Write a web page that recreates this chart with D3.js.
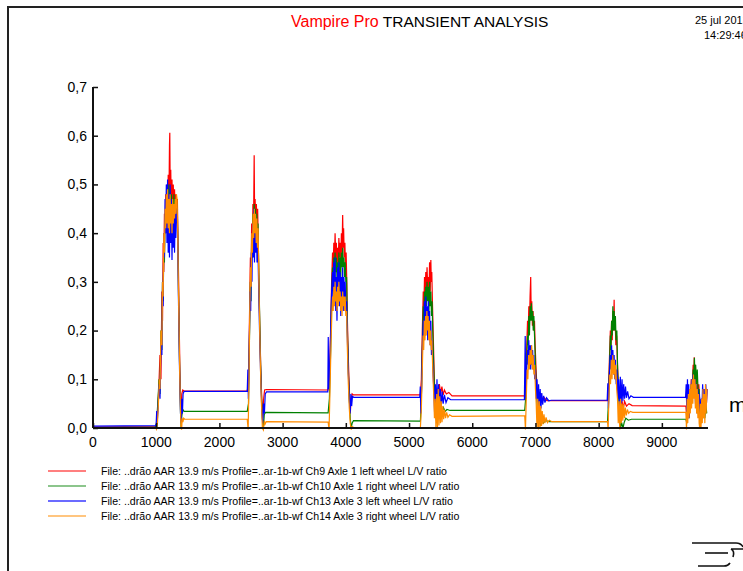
<!DOCTYPE html>
<html>
<head>
<meta charset="utf-8">
<script src="https://cdn.jsdelivr.net/npm/d3@7"></script>
<style>
  body { margin: 0; background: #fff; }
  text { font-family: "Liberation Sans", Arial, sans-serif; }
</style>
</head>
<body>
<div id="chart"></div>
<script>
// distance along track (m) and L/V ratio
var ch9 = [[0,0.002],[980,0.003],
  [1000,0.004],[1020,0.03],[1040,0.08],[1060,0.15],[1075,0.1],[1090,0.28],[1100,0.22],[1110,0.38],[1120,0.32],[1130,0.44],[1140,0.4],[1150,0.48],[1160,0.43],[1170,0.5],[1180,0.42],[1190,0.52],[1200,0.45],[1210,0.58],[1215,0.606],[1222,0.47],[1230,0.53],[1240,0.44],[1250,0.51],[1260,0.43],[1270,0.5],[1280,0.45],[1290,0.49],[1300,0.44],[1310,0.48],[1320,0.46],[1335,0.47],[1345,0.38],[1355,0.3],[1365,0.2],[1375,0.12],[1385,0.06],[1395,0.02],[1405,0.07],[1420,0.078],[1440,0.076],
  [2440,0.076],
  [2460,0.09],[2475,0.22],[2490,0.35],[2500,0.3],[2510,0.42],[2520,0.38],[2530,0.46],[2540,0.42],[2550,0.56],[2556,0.45],[2565,0.47],[2575,0.41],[2585,0.46],[2595,0.4],[2605,0.45],[2615,0.38],[2625,0.3],[2640,0.2],[2655,0.12],[2670,0.06],[2685,0.02],[2700,0.06],[2715,0.078],[2740,0.079],
  [3720,0.078],
  [3740,0.1],[3760,0.2],[3775,0.3],[3790,0.36],[3800,0.33],[3810,0.38],[3820,0.34],[3830,0.4],[3840,0.35],[3850,0.38],[3860,0.33],[3870,0.37],[3880,0.34],[3890,0.39],[3900,0.35],[3910,0.38],[3920,0.34],[3930,0.4],[3940,0.36],[3950,0.437],[3958,0.37],[3965,0.41],[3975,0.35],[3985,0.38],[3995,0.33],[4005,0.36],[4015,0.3],[4025,0.22],[4040,0.14],[4055,0.08],[4070,0.03],[4085,0.06],[4100,0.07],[4120,0.068],
  [5180,0.068],
  [5195,0.1],[5210,0.2],[5225,0.28],[5235,0.25],[5245,0.31],[5255,0.27],[5265,0.32],[5275,0.28],[5285,0.33],[5295,0.29],[5305,0.31],[5315,0.26],[5325,0.34],[5335,0.28],[5345,0.345],[5352,0.3],[5360,0.32],[5370,0.26],[5385,0.18],[5400,0.1],[5415,0.05],[5430,0.03],[5445,0.08],[5460,0.06],[5480,0.09],[5500,0.07],[5520,0.085],[5540,0.068],[5560,0.078],[5590,0.07],[5630,0.073],[5680,0.066],
  [6830,0.066],
  [6845,0.09],[6860,0.16],[6875,0.22],[6885,0.19],[6895,0.25],[6905,0.21],[6915,0.27],[6925,0.31],[6932,0.24],[6942,0.26],[6952,0.21],[6962,0.24],[6972,0.2],[6985,0.22],[6995,0.17],[7010,0.12],[7025,0.08],[7040,0.04],[7055,0.07],[7070,0.05],[7090,0.07],[7110,0.055],[7140,0.062],[7180,0.056],[7230,0.056],
  [8140,0.056],
  [8155,0.08],[8170,0.14],[8185,0.2],[8195,0.17],[8205,0.22],[8215,0.18],[8225,0.24],[8235,0.2],[8245,0.263],[8252,0.2],[8262,0.22],[8272,0.17],[8285,0.19],[8298,0.13],[8312,0.09],[8330,0.06],[8350,0.035],[8370,0.055],[8390,0.04],[8410,0.055],[8440,0.045],[8480,0.05],[8530,0.046],
  [9380,0.045],
  [9395,0.02],[9410,0.06],[9420,0.03],[9435,0.08],[9450,0.05],[9465,0.1],[9480,0.08],[9495,0.13],[9505,0.1],[9512,0.145],[9520,0.11],[9530,0.13],[9540,0.09],[9555,0.11],[9570,0.07],[9585,0.09],[9600,0.05],[9615,0.02],[9630,0.06],[9645,0.04],[9660,0.08],[9675,0.03],[9690,0.07],[9705,0.05],[9715,0.08]];

var ch10 = [[0,0.001],[990,0.002],
  [1005,0.01],[1025,0.05],[1045,0.1],[1060,0.07],[1075,0.2],[1090,0.16],[1100,0.3],[1110,0.26],[1120,0.38],[1130,0.34],[1140,0.44],[1150,0.4],[1160,0.47],[1170,0.42],[1180,0.49],[1190,0.43],[1200,0.5],[1210,0.44],[1220,0.49],[1230,0.43],[1240,0.48],[1250,0.42],[1260,0.47],[1270,0.43],[1280,0.48],[1290,0.44],[1300,0.47],[1310,0.45],[1320,0.47],[1335,0.44],[1345,0.36],[1355,0.26],[1365,0.17],[1375,0.09],[1385,0.03],[1395,0.0],[1405,0.025],[1420,0.038],[1440,0.034],
  [2440,0.034],
  [2460,0.05],[2475,0.18],[2490,0.3],[2500,0.26],[2510,0.39],[2520,0.35],[2530,0.44],[2540,0.4],[2550,0.46],[2560,0.41],[2570,0.45],[2580,0.4],[2590,0.44],[2600,0.39],[2610,0.42],[2620,0.34],[2635,0.24],[2650,0.14],[2665,0.07],[2680,0.02],[2695,0.0],[2710,0.028],[2730,0.032],
  [3720,0.031],
  [3740,0.06],[3760,0.16],[3775,0.27],[3790,0.33],[3800,0.3],[3810,0.35],[3820,0.31],[3830,0.36],[3840,0.32],[3850,0.35],[3860,0.31],[3870,0.34],[3880,0.3],[3890,0.36],[3900,0.32],[3910,0.35],[3920,0.31],[3930,0.36],[3940,0.33],[3950,0.37],[3960,0.33],[3970,0.35],[3980,0.31],[3990,0.34],[4000,0.3],[4012,0.31],[4025,0.2],[4040,0.12],[4055,0.06],[4070,0.02],[4085,0.0],[4100,0.01],[4120,0.015],
  [5180,0.014],
  [5195,0.06],[5210,0.16],[5225,0.25],[5235,0.22],[5245,0.28],[5255,0.24],[5265,0.29],[5275,0.25],[5285,0.3],[5295,0.26],[5305,0.29],[5315,0.24],[5325,0.3],[5335,0.25],[5345,0.28],[5355,0.23],[5365,0.26],[5375,0.2],[5390,0.13],[5405,0.07],[5420,0.03],[5440,0.01],[5460,0.04],[5480,0.02],[5500,0.045],[5520,0.03],[5545,0.042],[5570,0.034],[5600,0.038],[5650,0.036],
  [6830,0.036],
  [6845,0.06],[6860,0.13],[6875,0.19],[6885,0.17],[6895,0.23],[6905,0.19],[6915,0.25],[6925,0.22],[6935,0.256],[6945,0.22],[6955,0.24],[6965,0.2],[6975,0.23],[6988,0.18],[7000,0.13],[7015,0.08],[7030,0.04],[7045,0.01],[7060,0.03],[7080,0.005],[7100,0.02],[7125,0.01],[7160,0.015],[7220,0.013],
  [8140,0.013],
  [8155,0.05],[8170,0.12],[8185,0.19],[8195,0.16],[8205,0.22],[8215,0.19],[8225,0.25],[8235,0.2],[8245,0.24],[8255,0.2],[8265,0.23],[8275,0.18],[8288,0.2],[8300,0.12],[8315,0.07],[8330,0.03],[8345,0.0],[8365,0.01],[8385,0.0],[8405,0.012],[8430,0.02],[8470,0.016],[8520,0.018],
  [9380,0.018],
  [9395,0.01],[9410,0.04],[9420,0.02],[9435,0.07],[9450,0.04],[9465,0.09],[9480,0.07],[9495,0.12],[9505,0.09],[9515,0.144],[9525,0.1],[9535,0.13],[9545,0.09],[9560,0.12],[9575,0.07],[9590,0.08],[9605,0.03],[9620,0.01],[9635,0.04],[9650,0.02],[9665,0.06],[9680,0.02],[9695,0.05],[9710,0.03]];

var ch13 = [[0,0.004],[990,0.005],
  [1000,0.01],[1008,0.035],[1015,0.01],[1030,0.04],[1045,0.09],[1060,0.06],[1075,0.18],[1090,0.15],[1100,0.3],[1110,0.25],[1120,0.4],[1130,0.35],[1140,0.47],[1150,0.4],[1160,0.5],[1170,0.38],[1180,0.51],[1190,0.36],[1200,0.48],[1210,0.35],[1220,0.5],[1230,0.38],[1240,0.47],[1250,0.345],[1260,0.46],[1270,0.37],[1280,0.45],[1290,0.36],[1300,0.44],[1310,0.39],[1320,0.45],[1335,0.42],[1345,0.33],[1355,0.24],[1365,0.15],[1375,0.08],[1385,0.03],[1395,0.01],[1405,0.06],[1415,0.03],[1425,0.07],[1440,0.075],
  [2440,0.075],
  [2450,0.12],[2458,0.06],[2470,0.15],[2485,0.28],[2495,0.24],[2505,0.36],[2515,0.3],[2525,0.42],[2535,0.35],[2545,0.45],[2555,0.34],[2565,0.44],[2575,0.36],[2585,0.43],[2595,0.34],[2605,0.4],[2615,0.33],[2625,0.26],[2640,0.17],[2655,0.1],[2670,0.04],[2685,0.01],[2700,0.05],[2712,0.03],[2725,0.07],[2745,0.074],
  [3715,0.074],
  [3722,0.187],[3730,0.08],[3745,0.12],[3760,0.2],[3775,0.28],[3790,0.32],[3800,0.25],[3810,0.34],[3820,0.27],[3830,0.35],[3840,0.24],[3850,0.31],[3860,0.22],[3870,0.33],[3880,0.26],[3890,0.34],[3900,0.25],[3910,0.32],[3920,0.23],[3930,0.31],[3940,0.26],[3950,0.33],[3960,0.24],[3970,0.31],[3980,0.25],[3990,0.3],[4000,0.24],[4012,0.26],[4025,0.18],[4040,0.11],[4055,0.06],[4068,0.03],[4080,0.07],[4092,0.045],[4105,0.065],[4125,0.063],
  [5170,0.063],
  [5178,0.085],[5186,0.03],[5198,0.08],[5212,0.16],[5225,0.22],[5235,0.18],[5245,0.26],[5255,0.19],[5265,0.27],[5275,0.2],[5285,0.25],[5295,0.18],[5305,0.26],[5315,0.19],[5325,0.24],[5335,0.17],[5345,0.22],[5355,0.15],[5365,0.18],[5378,0.12],[5392,0.08],[5405,0.03],[5418,0.09],[5430,0.02],[5442,0.1],[5455,0.03],[5468,0.09],[5480,0.04],[5495,0.08],[5510,0.045],[5525,0.075],[5540,0.05],[5560,0.068],[5585,0.052],[5615,0.062],[5660,0.058],
  [6825,0.058],
  [6838,0.189],[6848,0.06],[6860,0.12],[6875,0.16],[6885,0.13],[6895,0.18],[6905,0.13],[6915,0.17],[6925,0.12],[6935,0.17],[6945,0.13],[6955,0.16],[6965,0.12],[6975,0.15],[6988,0.1],[7000,0.12],[7012,0.06],[7025,0.1],[7038,0.03],[7050,0.09],[7062,0.035],[7075,0.08],[7088,0.04],[7100,0.072],[7115,0.048],[7130,0.066],[7150,0.052],[7175,0.062],[7210,0.056],[7250,0.057],
  [8135,0.057],
  [8145,0.092],[8155,0.04],[8168,0.1],[8182,0.15],[8195,0.12],[8205,0.17],[8215,0.12],[8225,0.16],[8235,0.11],[8245,0.15],[8255,0.1],[8265,0.14],[8278,0.09],[8290,0.12],[8303,0.06],[8316,0.1],[8330,0.04],[8343,0.105],[8356,0.05],[8370,0.1],[8383,0.055],[8396,0.09],[8410,0.06],[8425,0.085],[8440,0.062],[8458,0.075],[8480,0.06],[8510,0.066],[8550,0.063],
  [9375,0.063],
  [9385,0.09],[9395,0.03],[9405,0.1],[9415,0.04],[9425,0.09],[9435,0.02],[9445,0.08],[9458,0.05],[9470,0.1],[9482,0.06],[9495,0.11],[9508,0.07],[9520,0.1],[9532,0.05],[9545,0.09],[9558,0.03],[9570,0.08],[9582,0.04],[9595,0.07],[9608,0.01],[9620,0.06],[9632,0.03],[9645,0.09],[9658,0.04],[9670,0.08],[9683,0.03],[9695,0.09],[9705,0.05],[9715,0.08]];

var ch14 = [[0,0.001],[990,0.0],
  [1005,-0.003],[1020,0.01],[1035,0.05],[1050,0.1],[1060,0.08],[1075,0.2],[1090,0.17],[1100,0.3],[1110,0.27],[1120,0.4],[1130,0.36],[1140,0.45],[1150,0.41],[1160,0.48],[1170,0.42],[1180,0.49],[1190,0.41],[1200,0.47],[1210,0.4],[1220,0.48],[1230,0.42],[1240,0.46],[1250,0.4],[1260,0.47],[1270,0.42],[1280,0.46],[1290,0.43],[1300,0.47],[1310,0.44],[1320,0.48],[1330,0.47],[1340,0.4],[1350,0.3],[1362,0.2],[1372,0.11],[1382,0.05],[1392,0.0],[1402,-0.003],[1412,0.02],[1422,0.012],[1435,0.02],[1450,0.018],
  [2440,0.018],
  [2455,-0.003],[2468,0.1],[2480,0.24],[2492,0.33],[2502,0.29],[2512,0.4],[2522,0.36],[2532,0.44],[2542,0.39],[2552,0.45],[2562,0.4],[2572,0.44],[2582,0.38],[2592,0.43],[2602,0.37],[2612,0.41],[2622,0.32],[2636,0.21],[2650,0.12],[2665,0.05],[2680,0.0],[2695,-0.004],[2710,0.015],[2722,0.008],[2740,0.013],
  [3720,0.012],
  [3735,-0.003],[3750,0.08],[3765,0.17],[3780,0.24],[3790,0.27],[3800,0.24],[3810,0.29],[3820,0.25],[3830,0.3],[3840,0.26],[3850,0.28],[3860,0.24],[3870,0.29],[3880,0.25],[3890,0.3],[3900,0.26],[3910,0.28],[3920,0.24],[3930,0.27],[3940,0.23],[3950,0.28],[3960,0.25],[3970,0.27],[3980,0.24],[3990,0.27],[4000,0.23],[4012,0.24],[4025,0.16],[4040,0.09],[4055,0.04],[4070,0.01],[4085,-0.003],[4100,0.003],[4125,0.001],
  [5180,0.001],
  [5195,0.04],[5210,0.12],[5222,0.19],[5232,0.16],[5242,0.22],[5252,0.18],[5262,0.23],[5272,0.19],[5282,0.24],[5292,0.2],[5302,0.23],[5312,0.18],[5322,0.22],[5332,0.17],[5342,0.2],[5352,0.16],[5362,0.18],[5375,0.12],[5390,0.07],[5402,0.02],[5414,0.06],[5426,-0.003],[5438,0.07],[5450,0.0],[5462,0.08],[5474,0.005],[5486,0.065],[5498,0.01],[5510,0.055],[5522,0.012],[5535,0.045],[5548,0.018],[5562,0.038],[5578,0.02],[5595,0.032],[5615,0.022],[5640,0.027],[5680,0.024],
  [6830,0.025],
  [6842,-0.003],[6855,0.06],[6868,0.12],[6880,0.1],[6892,0.15],[6904,0.12],[6916,0.16],[6928,0.13],[6940,0.17],[6952,0.12],[6964,0.15],[6976,0.11],[6988,0.13],[7000,0.08],[7012,0.05],[7024,0.0],[7036,0.06],[7048,-0.003],[7060,0.055],[7072,0.0],[7084,0.045],[7096,0.004],[7108,0.035],[7120,0.008],[7135,0.028],[7150,0.01],[7168,0.022],[7190,0.011],[7220,0.016],[7260,0.013],
  [8140,0.013],
  [8150,-0.003],[8162,0.06],[8175,0.11],[8188,0.09],[8200,0.14],[8212,0.1],[8224,0.15],[8236,0.11],[8248,0.14],[8260,0.1],[8272,0.13],[8285,0.08],[8298,0.06],[8310,0.01],[8322,0.055],[8334,-0.003],[8346,0.06],[8358,0.01],[8370,0.05],[8382,0.015],[8395,0.048],[8408,0.02],[8422,0.042],[8438,0.026],[8455,0.038],[8475,0.03],[8500,0.034],[8540,0.032],
  [9380,0.032],
  [9390,-0.003],[9400,0.06],[9410,0.01],[9420,0.07],[9430,0.02],[9440,0.08],[9450,0.03],[9460,0.09],[9470,0.04],[9480,0.1],[9490,0.05],[9500,0.11],[9510,0.06],[9520,0.1],[9530,0.04],[9540,0.09],[9550,0.03],[9560,0.08],[9570,0.02],[9580,0.07],[9590,0.01],[9600,-0.002],[9610,0.05],[9620,0.0],[9630,0.06],[9640,0.01],[9650,0.08],[9660,0.02],[9670,0.07],[9680,0.01],[9690,0.09],[9700,0.03],[9712,0.08]];

var seriesNames = [
  "File: ..drão AAR 13.9 m/s Profile=..ar-1b-wf Ch9 Axle 1 left wheel L/V ratio",
  "File: ..drão AAR 13.9 m/s Profile=..ar-1b-wf Ch10 Axle 1 right wheel L/V ratio",
  "File: ..drão AAR 13.9 m/s Profile=..ar-1b-wf Ch13 Axle 3 left wheel L/V ratio",
  "File: ..drão AAR 13.9 m/s Profile=..ar-1b-wf Ch14 Axle 3 right wheel L/V ratio"
];
var seriesColors = ["#ff0000", "#008000", "#0000ff", "#ff8c00"];
var legendColors = ["#ff0000", "#1a8c1a", "#6b6bff", "#ff8c00"];
var xTicks = [0, 1000, 2000, 3000, 4000, 5000, 6000, 7000, 8000, 9000];
var yTicks = [0, 0.1, 0.2, 0.3, 0.4, 0.5, 0.6, 0.7];

var width = 743, height = 571;

var svg = d3.select("#chart").append("svg")
    .attr("width", width)
    .attr("height", height)
    .style("display", "block");

svg.append("rect").attr("width", width).attr("height", height).attr("fill", "#fff");

// page frame
svg.append("line").attr("x1", 7).attr("x2", width).attr("y1", 7).attr("y2", 7)
    .attr("stroke", "#222").attr("stroke-width", 2);
svg.append("line").attr("x1", 8).attr("x2", 8).attr("y1", 7).attr("y2", height)
    .attr("stroke", "#222").attr("stroke-width", 2);

// title
var title = svg.append("text").attr("x", 291).attr("y", 27);
title.append("tspan").attr("fill", "#ff0000").style("font-size", "16px").text("Vampire Pro");
title.append("tspan").attr("dx", 4).attr("fill", "#000").style("font-size", "15.5px").text("TRANSIENT ANALYSIS");

// date stamp runs off the right edge, as in the original
svg.append("text").attr("x", 695).attr("y", 24)
    .style("font-size", "11px").text("25 jul 2013");
svg.append("text").attr("x", 704).attr("y", 39)
    .style("font-size", "11px").text("14:29:46");

var x = d3.scaleLinear().domain([0, 9730]).range([93, 708]);
var y = d3.scaleLinear().domain([0, 0.7]).range([428, 87]);

var line = d3.line()
    .x(d => x(d[0]))
    .y(d => y(d[1]));

[ch9, ch10, ch13, ch14].forEach(function (s, i) {
    svg.append("path")
        .datum(s)
        .attr("d", line)
        .attr("fill", "none")
        .attr("stroke", seriesColors[i])
        .attr("stroke-width", 1.2);
});

// axes, ticks pointing inwards
var xAxis = svg.append("g").attr("transform", "translate(0,428)")
    .call(d3.axisTop(x).tickValues(xTicks).tickSize(5).tickFormat(""));
xAxis.select(".domain").attr("d", "M93,0H708").attr("stroke", "#111").attr("stroke-width", 2);
xAxis.selectAll(".tick line").attr("stroke", "#111").attr("stroke-width", 1.5);
svg.append("g").selectAll("text").data(xTicks).enter().append("text")
    .attr("x", d => x(d))
    .attr("y", 447)
    .attr("text-anchor", "middle")
    .style("font-size", "14px")
    .text(d => d);

var yAxis = svg.append("g").attr("transform", "translate(93,0)")
    .call(d3.axisRight(y).tickValues(yTicks).tickSize(5).tickFormat(""));
yAxis.select(".domain").attr("d", "M0,87V428").attr("stroke", "#111").attr("stroke-width", 2);
yAxis.selectAll(".tick line").attr("stroke", "#111").attr("stroke-width", 1.5);
svg.append("g").selectAll("text").data(yTicks).enter().append("text")
    .attr("x", 87)
    .attr("y", d => y(d))
    .attr("dy", "0.35em")
    .attr("text-anchor", "end")
    .style("font-size", "14px")
    .text(d => d3.format(".1f")(d).replace(".", ","));

svg.append("text").attr("x", 729).attr("y", 412)
    .style("font-size", "21px").text("m");

// legend
var legend = svg.append("g");
seriesNames.forEach(function (name, i) {
    var ly = 471 + i * 15;
    legend.append("line")
        .attr("x1", 48).attr("x2", 86).attr("y1", ly).attr("y2", ly)
        .attr("stroke", legendColors[i])
        .attr("stroke-width", i === 2 ? 2 : 1.2);
    legend.append("text")
        .attr("x", 101).attr("y", ly + 4)
        .style("font-size", "10.6px")
        .text(name);
});

// logo fragment bottom right
var logo = svg.append("g").attr("fill", "none").attr("stroke", "#111").attr("stroke-width", 1.6);
logo.append("path").attr("d", "M692,543H736Q741,543 743,547");
logo.append("path").attr("d", "M705,553H728");
logo.append("path").attr("d", "M731,549L743,549M731,549Q735,551 733,557");
logo.append("path").attr("d", "M698,566H724Q728,566 730,563");
</script>
</body>
</html>
